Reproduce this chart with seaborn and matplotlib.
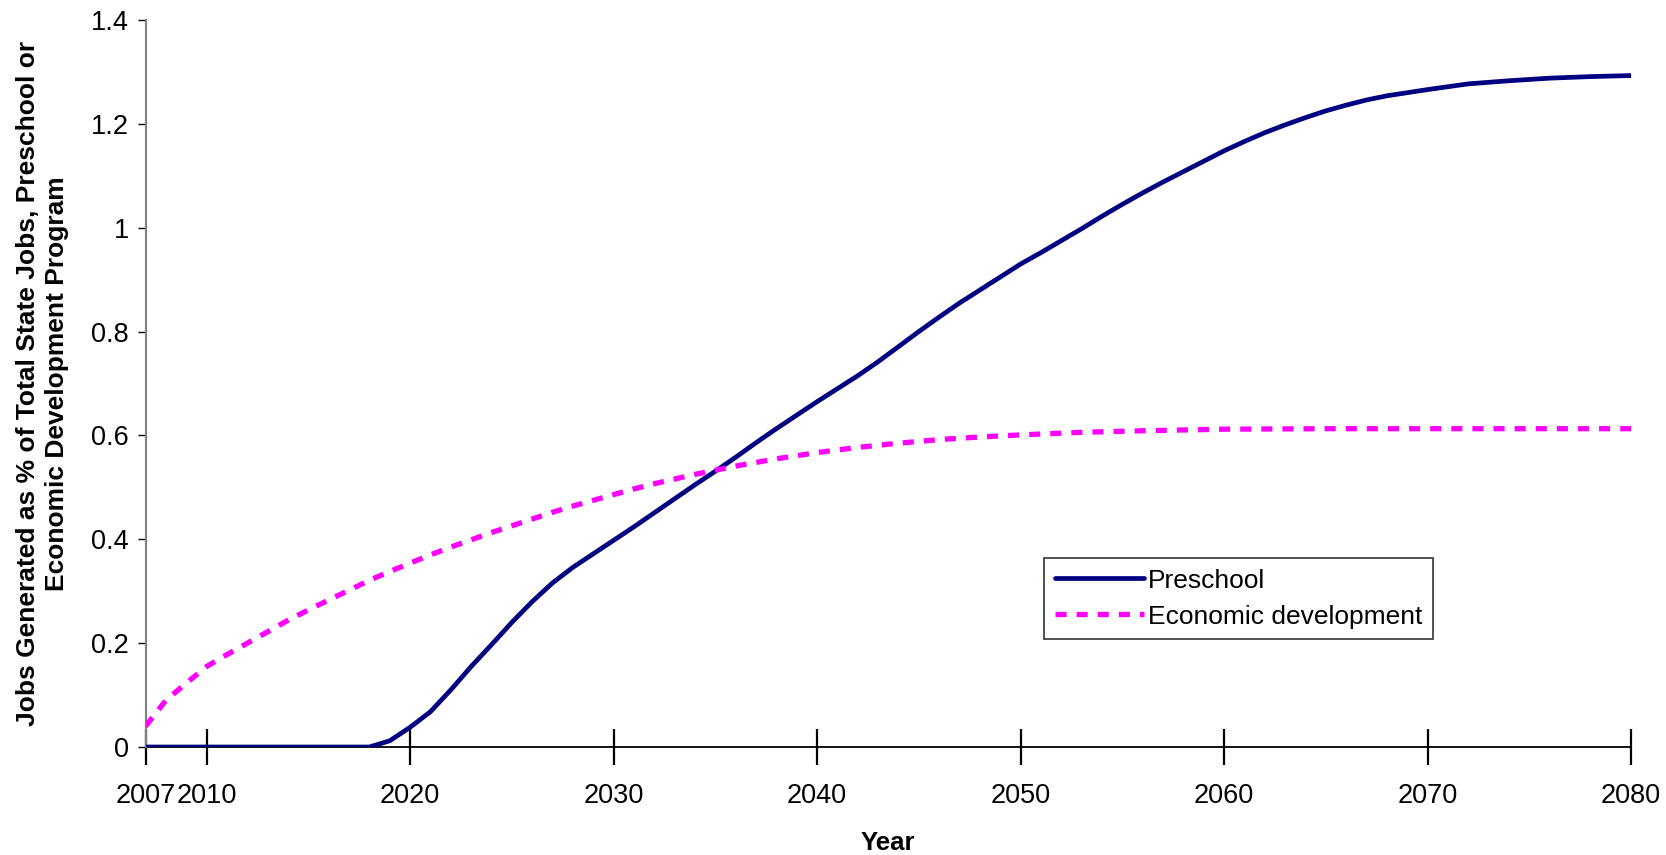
import matplotlib
matplotlib.use("Agg")
import matplotlib.pyplot as plt
import seaborn as sns
import pandas as pd

# ---- data ----
pre_years = [2007, 2010, 2015, 2018, 2019, 2020, 2021, 2022, 2023, 2024, 2025, 2026, 2027,
             2028, 2029, 2030, 2031, 2032, 2033, 2034, 2035, 2036, 2037, 2038, 2039, 2040,
             2041, 2042, 2043, 2044, 2045, 2046, 2047, 2048, 2049, 2050, 2051, 2052, 2053,
             2054, 2055, 2056, 2057, 2058, 2059, 2060, 2061, 2062, 2063, 2064, 2065, 2066,
             2067, 2068, 2069, 2070, 2072, 2074, 2076, 2078, 2080]
preschool = [0, 0, 0, 0, 0.012, 0.038, 0.068, 0.11, 0.155, 0.197, 0.24, 0.28, 0.316,
             0.346, 0.372, 0.398, 0.424, 0.451, 0.478, 0.505, 0.531, 0.558, 0.586, 0.613, 0.639, 0.665,
             0.69, 0.715, 0.742, 0.771, 0.80, 0.828, 0.855, 0.88, 0.905, 0.93, 0.952, 0.975, 0.998,
             1.022, 1.045, 1.067, 1.088, 1.108, 1.128, 1.148, 1.166, 1.183, 1.198, 1.212, 1.225, 1.236,
             1.246, 1.254, 1.260, 1.266, 1.277, 1.283, 1.288, 1.291, 1.293]

eco_years = [2007, 2008, 2009, 2010, 2011, 2012, 2013, 2014, 2015, 2016, 2017, 2018, 2019,
             2020, 2021, 2022, 2023, 2024, 2025, 2026, 2027, 2028, 2029, 2030, 2031, 2032,
             2033, 2034, 2035, 2036, 2037, 2038, 2039, 2040, 2042, 2044, 2046, 2048, 2050,
             2053, 2056, 2060, 2065, 2070, 2080]
economic = [0.040, 0.09, 0.123, 0.155, 0.178, 0.200, 0.222, 0.244, 0.264, 0.283, 0.302, 0.321, 0.338,
            0.354, 0.37, 0.385, 0.399, 0.413, 0.426, 0.439, 0.452, 0.464, 0.475, 0.486, 0.497, 0.507,
            0.516, 0.525, 0.533, 0.541, 0.548, 0.555, 0.561, 0.567, 0.577, 0.585, 0.592, 0.597, 0.601,
            0.606, 0.609, 0.612, 0.613, 0.613, 0.613]

x_ticks = [2007, 2010, 2020, 2030, 2040, 2050, 2060, 2070, 2080]
y_ticks = [0, 0.2, 0.4, 0.6, 0.8, 1.0, 1.2, 1.4]
y_tick_labels = ["0", "0.2", "0.4", "0.6", "0.8", "1", "1.2", "1.4"]
series_names = ["Preschool", "Economic development"]

# ---- plotting ----
sns.set_theme(style="white")
plt.rcParams['font.family'] = ['Liberation Sans', 'DejaVu Sans']

fig = plt.figure(figsize=(16.66, 8.55), dpi=100)
ax = fig.add_axes([145.6 / 1666, 1 - 747 / 855, (1631 - 145.6) / 1666, (747 - 20) / 855])

df_pre = pd.DataFrame({"Year": pre_years, "value": preschool})
df_eco = pd.DataFrame({"Year": eco_years, "value": economic})

sns.lineplot(data=df_pre, x="Year", y="value", ax=ax, color="#000080", linewidth=3.4,
             label=series_names[0], zorder=3)
sns.lineplot(data=df_eco, x="Year", y="value", ax=ax, color="#FF00FF", linewidth=3.8,
             label=series_names[1], zorder=3)
ax.lines[1].set_dashes([2.1, 1.9])
ax.lines[1].set_dash_capstyle("butt")

ax.set_xlim(2007, 2080)
ax.set_ylim(0, 1.4)
ax.set_xticks(x_ticks)
ax.set_xticklabels([str(t) for t in x_ticks])
ax.set_yticks(y_ticks)
ax.set_yticklabels(y_tick_labels)

for s in ["top", "right"]:
    ax.spines[s].set_visible(False)
ax.spines["left"].set_color("#808080")
ax.spines["left"].set_linewidth(1.5)
ax.spines["bottom"].set_color("black")
ax.spines["bottom"].set_linewidth(1.3)
ax.spines["bottom"].set_zorder(2)

ax.tick_params(axis="x", direction="inout", length=26, width=1.6, color="black",
               labelsize=19.5, pad=13, bottom=True, labelcolor="black")
ax.tick_params(axis="y", direction="out", length=6, width=1.0, color="black",
               labelsize=19.5, pad=6, left=True, labelcolor="black")

label_font = ['Liberation Sans Narrow', 'Liberation Sans', 'DejaVu Sans']
ax.set_xlabel("Year", fontsize=18.5, fontweight="bold", family=['Liberation Sans', 'DejaVu Sans'],
              labelpad=16, color="black")
ax.set_ylabel("Jobs Generated as % of Total State Jobs, Preschool or\nEconomic Development Program",
              fontsize=19, fontweight="bold", family=label_font, labelpad=16, color="black",
              linespacing=1.25)

leg = ax.legend(loc="upper left", bbox_to_anchor=(0.596, 0.278), fontsize=19,
                frameon=True, fancybox=False, edgecolor="black", handlelength=3.4,
                borderpad=0.4, labelspacing=0.45, handletextpad=0.15)
leg.get_frame().set_linewidth(1.2)
for t in leg.get_texts():
    t.set_color("black")

fig.savefig("out.png", dpi=100)
